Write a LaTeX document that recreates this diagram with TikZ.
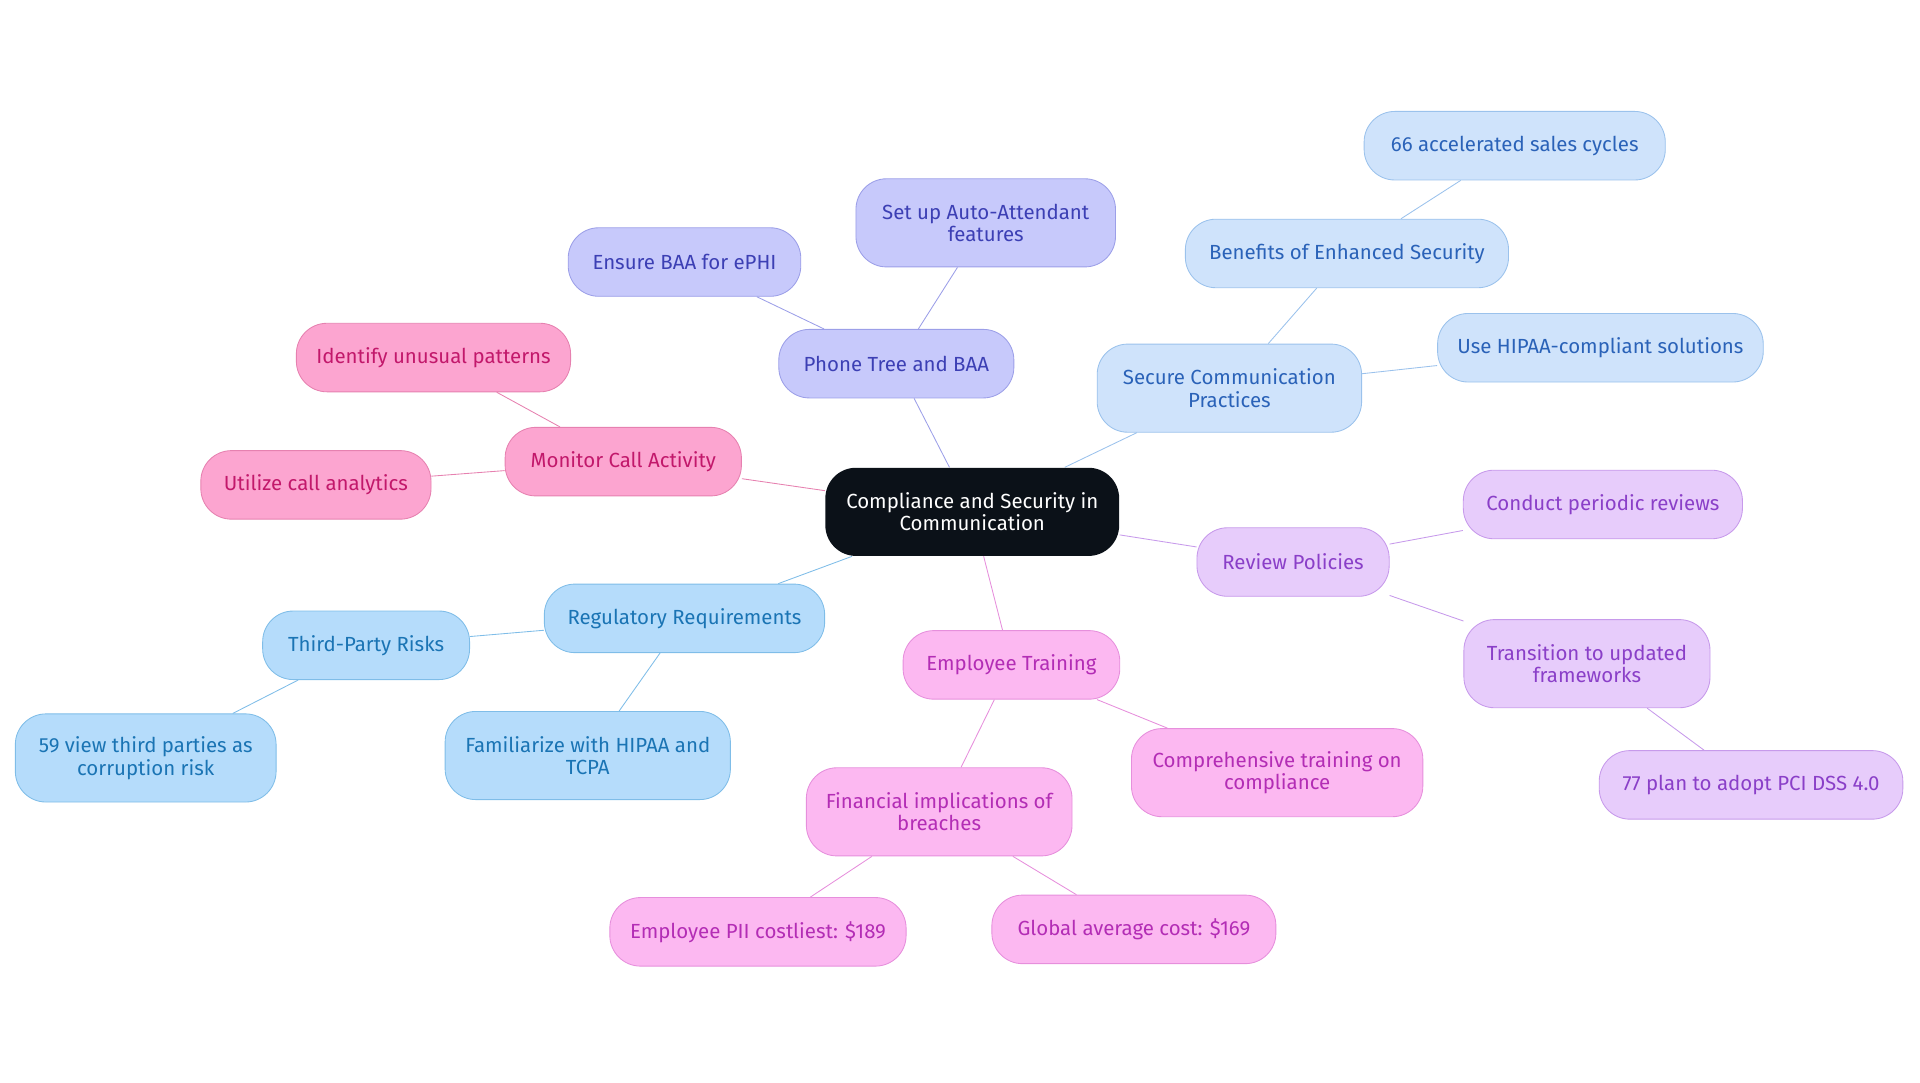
\documentclass[tikz,border=0pt]{standalone}
\usepackage{fontspec}
\setmainfont{Fira Sans}
\usetikzlibrary{backgrounds}
\definecolor{cblack}{HTML}{0B1118}
\definecolor{fPhone}{HTML}{C7C9FB}\definecolor{tPhone}{HTML}{3C3FB4}\definecolor{lPhone}{HTML}{9C9FE8}
\definecolor{fSec}{HTML}{CFE3FB}\definecolor{tSec}{HTML}{2A62B8}\definecolor{lSec}{HTML}{9BC2EC}
\definecolor{fMon}{HTML}{FCA5D0}\definecolor{tMon}{HTML}{C2186B}\definecolor{lMon}{HTML}{E681B0}
\definecolor{fReg}{HTML}{B5DCFB}\definecolor{tReg}{HTML}{1A74B4}\definecolor{lReg}{HTML}{7FBDE8}
\definecolor{fEmp}{HTML}{FCB8F1}\definecolor{tEmp}{HTML}{B32DB5}\definecolor{lEmp}{HTML}{E68FDC}
\definecolor{fRev}{HTML}{E7CCFB}\definecolor{tRev}{HTML}{8A3FC8}\definecolor{lRev}{HTML}{C79AEB}
\tikzset{
  box/.style={rounded corners=0.5cm,align=center,minimum height=1.12cm,inner sep=2pt,
    font=\fontsize{9.5}{10.5}\selectfont},
  root/.style={box,fill=cblack,text=white,minimum height=1.44cm},
  phone/.style={box,fill=fPhone,draw=lPhone,text=tPhone},
  sec/.style={box,fill=fSec,draw=lSec,text=tSec},
  mon/.style={box,fill=fMon,draw=lMon,text=tMon},
  reg/.style={box,fill=fReg,draw=lReg,text=tReg},
  emp/.style={box,fill=fEmp,draw=lEmp,text=tEmp},
  rev/.style={box,fill=fRev,draw=lRev,text=tRev},
  two/.style={minimum height=1.44cm},
}
\begin{document}
\begin{tikzpicture}[x=0.02cm,y=-0.02cm]
\useasboundingbox (0,0) rectangle (1568,884);
\node[root,minimum width=4.8cm] (root) at (794,418) {Compliance and Security in\\Communication};
% phone tree
\node[phone,minimum width=3.84cm] (phone) at (732,297) {Phone Tree and BAA};
\node[phone,minimum width=3.8cm] (baa) at (559,214) {Ensure BAA for ePHI};
\node[phone,minimum width=4.24cm,two] (auto) at (805,182) {Set up Auto-Attendant\\features};
% secure communication
\node[sec,minimum width=4.32cm,two] (secure) at (1004,317) {Secure Communication\\Practices};
\node[sec,minimum width=5.28cm] (benef) at (1100,207) {Benefits of Enhanced Security};
\node[sec,minimum width=4.92cm] (sales) at (1237,119) {66 accelerated sales cycles};
\node[sec,minimum width=5.32cm] (hipaa) at (1307,284) {Use HIPAA-compliant solutions};
% monitor
\node[mon,minimum width=3.86cm] (monitor) at (509,377) {Monitor Call Activity};
\node[mon,minimum width=4.48cm] (ident) at (354,292) {Identify unusual patterns};
\node[mon,minimum width=3.76cm] (analy) at (258,396) {Utilize call analytics};
% regulatory
\node[reg,minimum width=4.58cm] (regul) at (559,505) {Regulatory Requirements};
\node[reg,minimum width=3.38cm] (third) at (299,527) {Third-Party Risks};
\node[reg,minimum width=4.26cm,two] (corrupt) at (119,619) {59 view third parties as\\corruption risk};
\node[reg,minimum width=4.66cm,two] (famil) at (480,617) {Familiarize with HIPAA and\\TCPA};
% training
\node[emp,minimum width=3.54cm] (train) at (826,543) {Employee Training};
\node[emp,minimum width=4.34cm,two] (finan) at (767,663) {Financial implications of\\breaches};
\node[emp,minimum width=4.76cm,two] (compr) at (1043,631) {Comprehensive training on\\compliance};
\node[emp,minimum width=4.84cm] (pii) at (619,761) {Employee PII costliest: \$189};
\node[emp,minimum width=4.64cm] (glob) at (926,759) {Global average cost: \$169};
% review
\node[rev,minimum width=3.14cm] (review) at (1056,459) {Review Policies};
\node[rev,minimum width=4.56cm] (conduct) at (1309,412) {Conduct periodic reviews};
\node[rev,minimum width=4.02cm,two] (trans) at (1296,542) {Transition to updated\\frameworks};
\node[rev,minimum width=4.96cm] (pci) at (1430,641) {77 plan to adopt PCI DSS 4.0};
\begin{scope}[on background layer,line width=1.2pt]
\draw[lPhone] (root) -- (phone) (phone) -- (baa) (phone) -- (auto);
\draw[lSec] (root) -- (secure) (secure) -- (benef) (benef) -- (sales) (secure) -- (hipaa);
\draw[lMon] (root) -- (monitor) (monitor) -- (ident) (monitor) -- (analy);
\draw[lReg] (root) -- (regul) (regul) -- (third) (third) -- (corrupt) (regul) -- (famil);
\draw[lEmp] (root) -- (train) (train) -- (finan) (train) -- (compr) (finan) -- (pii) (finan) -- (glob);
\draw[lRev] (root) -- (review) (review) -- (conduct) (review) -- (trans) (trans) -- (pci);
\end{scope}
\end{tikzpicture}
\end{document}
